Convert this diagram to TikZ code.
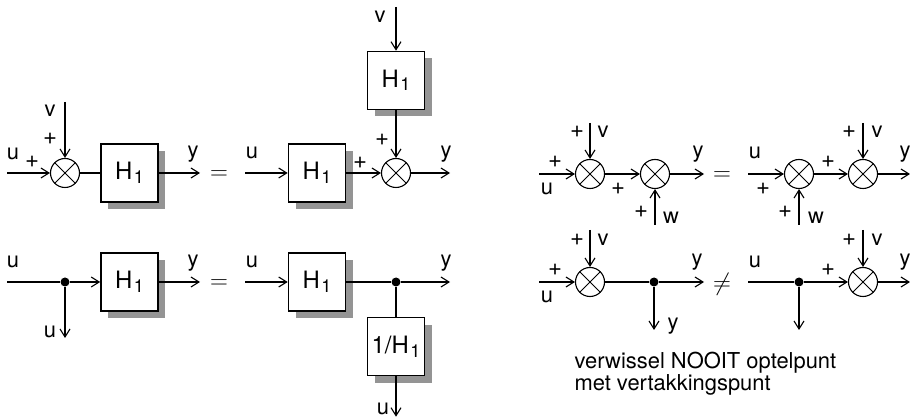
\documentclass[tikz,border=0pt]{standalone}
\usepackage{fontspec}
\setmainfont{TeX Gyre Heros}
\usetikzlibrary{arrows.meta,shadows}

\newcommand{\Hsub}[1]{#1\kern1.5bp\raisebox{-3.5bp}{\fontsize{18}{18}\selectfont 1}}

\begin{document}
\begin{tikzpicture}[line width=1.1bp,>={Straight Barb[length=8bp,width=10bp]},
  blok/.style={draw,line width=1.6bp,fill=white,minimum width=57bp,minimum height=58bp,inner sep=0pt,
    font=\fontsize{24}{24}\selectfont,drop shadow={shadow xshift=7bp,shadow yshift=-7bp,fill=black!42,opacity=1}},
  som/.style={draw,circle,minimum size=29bp,inner sep=0pt,
    path picture={\draw[line width=0.8bp] (path picture bounding box.north west) -- (path picture bounding box.south east)
      (path picture bounding box.north east) -- (path picture bounding box.south west);}},
  tak/.style={circle,fill,minimum size=9bp,inner sep=0pt},
  lbl/.style={font=\fontsize{22}{22}\selectfont,inner sep=0pt},
  pls/.style={font=\fontsize{24}{24}\selectfont,inner sep=0pt},
  gelijk/.style={font=\fontsize{30}{30}\selectfont,inner sep=0pt}]
\useasboundingbox (0bp,0bp) rectangle (910bp,419bp);

% links boven
\coordinate (u1) at (7bp,246bp);
\node (s1) at (65bp,246bp) [som] {};
\coordinate (v1) at (65bp,317bp);
\node (H1) at (129.5bp,246bp) [blok] {\Hsub{H}};
\coordinate (y1) at (200bp,246bp);
\draw [->] (u1) -- (s1);
\draw [->] (v1) -- (s1);
\draw (s1) -- (H1);
\draw [->] (H1) -- (y1);
\node (lv1) at (50bp,308bp) [lbl] {v};
\node (lp1) at (50bp,280bp) [pls] {+};
\node (lu1) at (13bp,265bp) [lbl] {u};
\node (lq1) at (32bp,257bp) [pls] {+};
\node (ly1) at (193bp,265bp) [lbl] {y};
\node (eq1) at (219bp,244bp) [gelijk] {$=$};

\coordinate (u2) at (245bp,246bp);
\node (H2) at (317bp,246bp) [blok] {\Hsub{H}};
\node (s2) at (396bp,246bp) [som] {};
\node (H3) at (396bp,338.5bp) [blok] {\Hsub{H}};
\coordinate (v2) at (396bp,412bp);
\coordinate (y2) at (450bp,246bp);
\draw [->] (u2) -- (H2);
\draw [->] (H2) -- (s2);
\draw [->] (v2) -- (H3);
\draw [->] (H3) -- (s2);
\draw [->] (s2) -- (y2);
\node (lu2) at (252bp,266bp) [lbl] {u};
\node (lp2) at (360bp,256bp) [pls] {+};
\node (lq2) at (382bp,279bp) [pls] {+};
\node (lv2) at (380bp,402bp) [lbl] {v};
\node (ly2) at (446bp,265bp) [lbl] {y};

% links onder
\coordinate (u3) at (7bp,137bp);
\node (t3) at (65bp,137bp) [tak] {};
\node (H4) at (129.5bp,137bp) [blok] {\Hsub{H}};
\coordinate (y3) at (200bp,137bp);
\coordinate (d3) at (65bp,81bp);
\draw (u3) -- (t3);
\draw [->] (t3) -- (H4);
\draw [->] (t3) -- (d3);
\draw [->] (H4) -- (y3);
\node (lu3) at (13bp,157bp) [lbl] {u};
\node (lu4) at (50bp,87bp) [lbl] {u};
\node (ly3) at (193bp,156bp) [lbl] {y};
\node (eq2) at (219bp,135bp) [gelijk] {$=$};

\coordinate (u4) at (245bp,137bp);
\node (H5) at (317bp,137bp) [blok] {\Hsub{H}};
\node (t4) at (396bp,137bp) [tak] {};
\node (H6) at (396bp,72.3bp) [blok] {\Hsub{1/H}};
\coordinate (d4) at (396bp,2.3bp);
\coordinate (y4) at (450bp,137bp);
\draw [->] (u4) -- (H5);
\draw (H5) -- (t4);
\draw [->] (t4) -- (y4);
\draw (t4) -- (H6);
\draw [->] (H6) -- (d4);
\node (lu5) at (252bp,157bp) [lbl] {u};
\node (lu6) at (383bp,10bp) [lbl] {u};
\node (ly4) at (446bp,156bp) [lbl] {y};

% rechts boven
\coordinate (u5) at (539bp,245bp);
\node (s5) at (590bp,245bp) [som] {};
\node (s6) at (655bp,245bp) [som] {};
\coordinate (y5) at (704bp,245bp);
\coordinate (v5) at (590bp,296bp);
\coordinate (w5) at (655bp,194bp);
\draw [->] (u5) -- (s5);
\draw [->] (v5) -- (s5);
\draw [->] (s5) -- (s6);
\draw [->] (w5) -- (s6);
\draw [->] (s6) -- (y5);
\node (lp5) at (577bp,287bp) [pls] {+};
\node (lv5) at (603bp,287bp) [lbl] {v};
\node (lq5) at (555bp,257bp) [pls] {+};
\node (lu5b) at (547bp,230bp) [lbl] {u};
\node (lr5) at (618bp,230bp) [pls] {+};
\node (ls5) at (641bp,207bp) [pls] {+};
\node (lw5) at (671bp,201bp) [lbl] {w};
\node (ly5) at (698bp,265bp) [lbl] {y};
\node (eq3) at (722bp,243bp) [gelijk] {$=$};

\coordinate (u6) at (748bp,245bp);
\node (s7) at (799bp,245bp) [som] {};
\node (s8) at (863bp,245bp) [som] {};
\coordinate (y6) at (910bp,245bp);
\coordinate (w6) at (799bp,194bp);
\coordinate (v6) at (863bp,296bp);
\draw [->] (u6) -- (s7);
\draw [->] (w6) -- (s7);
\draw [->] (s7) -- (s8);
\draw [->] (v6) -- (s8);
\draw [->] (s8) -- (y6);
\node (lu6b) at (755bp,266bp) [lbl] {u};
\node (lp6) at (763bp,230bp) [pls] {+};
\node (lq6) at (785bp,207bp) [pls] {+};
\node (lw6) at (816bp,201bp) [lbl] {w};
\node (lr6) at (828bp,257bp) [pls] {+};
\node (ls6) at (849bp,287bp) [pls] {+};
\node (lv6) at (877bp,287bp) [lbl] {v};
\node (ly6) at (905bp,265bp) [lbl] {y};

% rechts onder
\coordinate (u7) at (539bp,137bp);
\node (s9) at (590bp,137bp) [som] {};
\coordinate (v7) at (590bp,189bp);
\node (t7) at (654bp,137bp) [tak] {};
\coordinate (d7) at (654bp,89bp);
\coordinate (y7) at (704bp,137bp);
\draw [->] (u7) -- (s9);
\draw [->] (v7) -- (s9);
\draw (s9) -- (t7);
\draw [->] (t7) -- (d7);
\draw [->] (t7) -- (y7);
\node (lp7) at (577bp,179bp) [pls] {+};
\node (lv7) at (603bp,179bp) [lbl] {v};
\node (lq7) at (555bp,149bp) [pls] {+};
\node (lu7) at (547bp,122bp) [lbl] {u};
\node (ly7) at (673bp,93bp) [lbl] {y};
\node (ly8) at (697bp,157bp) [lbl] {y};
\node (neq) at (722bp,135bp) [gelijk] {$\neq$};

\coordinate (u8) at (748bp,137bp);
\node (t8) at (799bp,137bp) [tak] {};
\coordinate (d8) at (799bp,89bp);
\node (s10) at (863bp,137bp) [som] {};
\coordinate (v8) at (863bp,189bp);
\coordinate (y8) at (910bp,137bp);
\draw (u8) -- (t8);
\draw [->] (t8) -- (d8);
\draw [->] (t8) -- (s10);
\draw [->] (v8) -- (s10);
\draw [->] (s10) -- (y8);
\node (lu8) at (755bp,157bp) [lbl] {u};
\node (lr8) at (828bp,149bp) [pls] {+};
\node (ls8) at (849bp,179bp) [pls] {+};
\node (lv8) at (877bp,179bp) [lbl] {v};
\node (ly9) at (905bp,157bp) [lbl] {y};

\node (txt) at (574bp,67bp) [anchor=north west,align=left,inner sep=0pt,font=\fontsize{22}{22}\selectfont]
  {verwissel NOOIT optelpunt\\met vertakkingspunt};
\end{tikzpicture}
\end{document}
